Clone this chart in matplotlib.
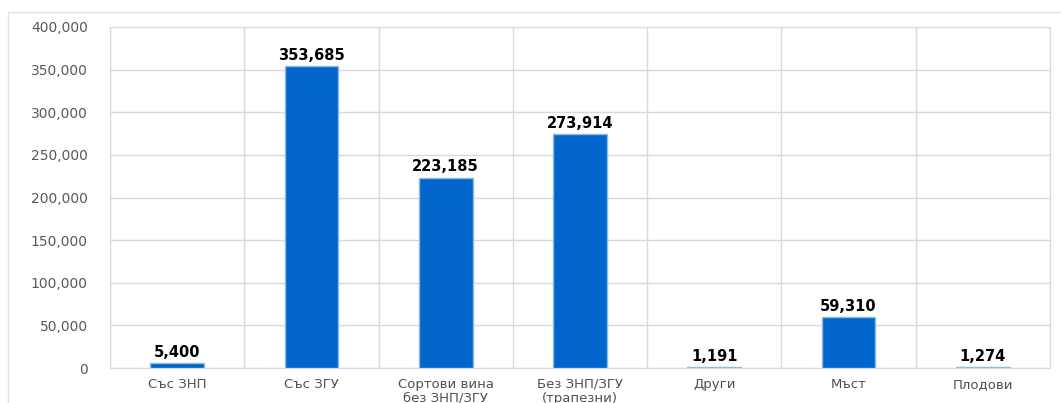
import matplotlib
matplotlib.use('Agg')

import matplotlib.pyplot as plt
from matplotlib.patches import Rectangle
from matplotlib.ticker import FuncFormatter, MultipleLocator
import numpy as np

categories = ['Със ЗНП', 'Със ЗГУ', 'Сортови вина\nбез ЗНП/ЗГУ', 'Без ЗНП/ЗГУ\n(трапезни)',
              'Други', 'Мъст', 'Плодови']
values = [5400, 353685, 223185, 273914, 1191, 59310, 1274]

bar_color = '#0066CC'
grid_color = '#d9d9d9'
text_color = '#595959'

fig = plt.figure(figsize=(10.61, 4.03), dpi=100)
W, H = 1061, 403
# plot area in pixels: left 110, right 1050, top 27, bottom 368
ax = fig.add_axes([110 / W, 1 - 368 / H, 940 / W, 341 / H])

# outer chart border
fig.patches.append(Rectangle((8 / W, -0.1), 1.2, 1 - 12 / H + 0.1, transform=fig.transFigure,
                             fill=False, edgecolor='#e3e3e3', linewidth=1.0))

x = np.arange(len(categories))
ax.bar(x, values, width=0.4, color=bar_color, edgecolor='#8fbbe8', linewidth=1.0, zorder=3)

for xi, v in zip(x, values):
    ax.text(xi, v + 4000, f'{v:,}', ha='center', va='bottom', fontsize=10.5,
            fontweight='bold', color='black')

ax.set_xlim(-0.5, len(categories) - 0.5)
ax.set_ylim(0, 400000)
ax.yaxis.set_major_locator(MultipleLocator(50000))
ax.yaxis.set_major_formatter(FuncFormatter(lambda v, p: f'{int(v):,}'))

# vertical lines between categories
ax.set_xticks(x)
ax.set_xticklabels(categories, fontsize=9.5, color='#505050', linespacing=1.1)
ax.set_xticks(np.arange(-0.5, len(categories), 1), minor=True)
ax.grid(axis='x', which='minor', color=grid_color, linewidth=1.0, zorder=0)
ax.grid(axis='y', which='major', color=grid_color, linewidth=1.0, zorder=0)

ax.tick_params(axis='both', which='both', length=0)
ax.tick_params(axis='y', labelsize=10, labelcolor=text_color, pad=16)
ax.tick_params(axis='x', pad=7)

for side in ['top', 'right', 'left', 'bottom']:
    ax.spines[side].set_color(grid_color)

fig.savefig('out.png', dpi=100)
